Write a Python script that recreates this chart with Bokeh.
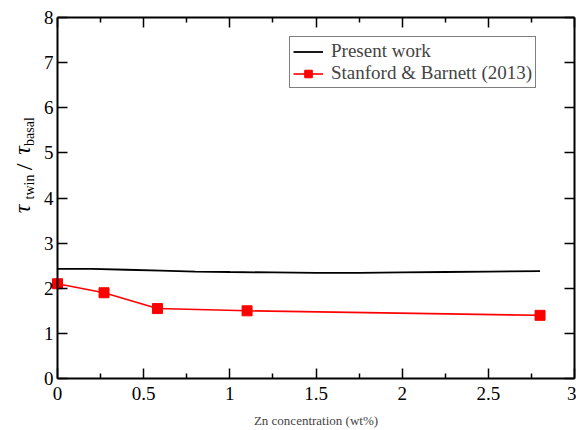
from math import pi
from bokeh.plotting import figure
from bokeh.models import (Range1d, FixedTicker, LinearAxis, NumeralTickFormatter,
                          Legend, LegendItem, Label, CustomJSTickFormatter)
from bokeh.embed import file_html
from bokeh.resources import INLINE

# ---------------- data ----------------
present_x = [0.0, 0.2, 0.4, 0.6, 0.8, 1.0, 1.25, 1.5, 1.75, 2.0, 2.25, 2.5, 2.8]
present_y = [2.43, 2.43, 2.41, 2.39, 2.37, 2.36, 2.35, 2.34, 2.34, 2.35, 2.36, 2.37, 2.38]

sb_x = [0.0, 0.27, 0.58, 1.1, 2.8]
sb_y = [2.1, 1.9, 1.55, 1.5, 1.4]

series_names = ["Present work", "Stanford & Barnett (2013)"]
x_bounds = (0, 3)
y_bounds = (0, 8)
x_ticks = [0, 0.5, 1, 1.5, 2, 2.5, 3]
x_minor_ticks = [0.25, 0.75, 1.25, 1.75, 2.25, 2.75]
y_ticks = [0, 1, 2, 3, 4, 5, 6, 7, 8]
x_label = "Zn concentration (wt%)"
y_label_parts = ["\u03c4", "twin", "/", "\u03c4", "basal"]

FONT = "Liberation Serif"

# ---------------- layout (pixels) ----------------
W, H = 576, 430
FL, FT, FR, FB = 57, 17, 2, 52          # margins around the axes box
PX_X = (W - FL - FR) / (x_bounds[1] - x_bounds[0])
PX_Y = (H - FT - FB) / (y_bounds[1] - y_bounds[0])
x_range = Range1d(x_bounds[0] - FL / PX_X, x_bounds[1] + FR / PX_X)
y_range = Range1d(y_bounds[0] - FB / PX_Y, y_bounds[1] + FT / PX_Y)

p = figure(width=W, height=H, x_range=x_range, y_range=y_range,
           output_backend="svg", toolbar_location=None,
           min_border_left=0, min_border_right=0, min_border_top=0,
           min_border_bottom=0)
p.title.visible = False
p.grid.visible = False
p.outline_line_color = None
p.background_fill_color = "white"
p.border_fill_color = "white"


def style_axis(ax, ticks, minor, bounds, loc, show_labels):
    ax.ticker = FixedTicker(ticks=ticks, minor_ticks=minor)
    ax.bounds = bounds
    ax.fixed_location = loc
    ax.axis_line_color = "black"
    ax.axis_line_width = 2
    ax.major_tick_in = 10
    ax.major_tick_out = 0
    ax.minor_tick_in = 5
    ax.minor_tick_out = 0
    ax.major_tick_line_width = 1.5
    ax.minor_tick_line_width = 1.5
    ax.major_tick_line_color = "black"
    ax.minor_tick_line_color = "black" if minor else None
    ax.major_label_text_font = FONT
    ax.major_label_text_color = "black"
    ax.major_label_text_font_size = "19px"
    if not show_labels:
        ax.formatter = CustomJSTickFormatter(code="return ''")
        ax.major_label_standoff = 0


xb = p.xaxis[0]
yl = p.yaxis[0]
style_axis(xb, x_ticks, x_minor_ticks, x_bounds, y_bounds[0], True)
style_axis(yl, y_ticks, [], y_bounds, x_bounds[0], True)
xb.formatter = NumeralTickFormatter(format="0.[0]")
xb.major_label_standoff = 8
yl.major_label_standoff = 4
xb.axis_label = x_label
xb.axis_label_text_font = FONT
xb.axis_label_text_font_style = "normal"
xb.axis_label_text_font_size = "13px"
xb.axis_label_standoff = 10

xt = LinearAxis()
style_axis(xt, x_ticks, x_minor_ticks, x_bounds, y_bounds[1], False)
p.add_layout(xt, "above")
yr = LinearAxis()
style_axis(yr, y_ticks, [], y_bounds, x_bounds[1], False)
p.add_layout(yr, "right")

# ---------------- data glyphs ----------------
r_present = p.line(present_x, present_y, line_color="black", line_width=1.8)
r_sb_line = p.line(sb_x, sb_y, line_color="#ff0000", line_width=1.6)
r_sb_pts = p.scatter(sb_x, sb_y, marker="square", size=10,
                     fill_color="#ff0000", line_color="#ff0000")

legend = Legend(items=[
    LegendItem(label=series_names[0], renderers=[r_present]),
    LegendItem(label=series_names[1], renderers=[r_sb_line, r_sb_pts]),
], location=(289, H - 88), margin=0, padding=3, spacing=0,
    glyph_width=30, glyph_height=19, label_height=19, label_standoff=8,
    label_text_font=FONT, label_text_font_size="19px",
    border_line_color="black", border_line_width=1,
    background_fill_color="white", background_fill_alpha=1.0)
p.add_layout(legend)

# ---------------- y-axis label (tau_twin / tau_basal) ----------------
def dx(px):
    return x_range.start + px / PX_X


def dy(py):
    return y_range.end - py / PX_Y


label_specs = [
    # text, centre x, centre y (pixels), size, style   -- text runs upwards
    (y_label_parts[0], 21.0, 208.5, "24px", "italic"),
    (y_label_parts[1], 28.5, 186.5, "14px", "normal"),
    (y_label_parts[2], 23.5, 166.5, "24px", "normal"),
    (y_label_parts[3], 21.0, 150.0, "24px", "italic"),
    (y_label_parts[4], 28.5, 131.0, "14px", "normal"),
]
for txt, cx, cy, fs, st in label_specs:
    p.add_layout(Label(x=dx(cx), y=dy(cy), text=txt, angle=pi / 2,
                       text_align="center", text_baseline="middle",
                       text_font=FONT, text_font_size=fs, text_font_style=st,
                       text_color="black"))

open("out.html", "w").write(file_html(p, INLINE))
